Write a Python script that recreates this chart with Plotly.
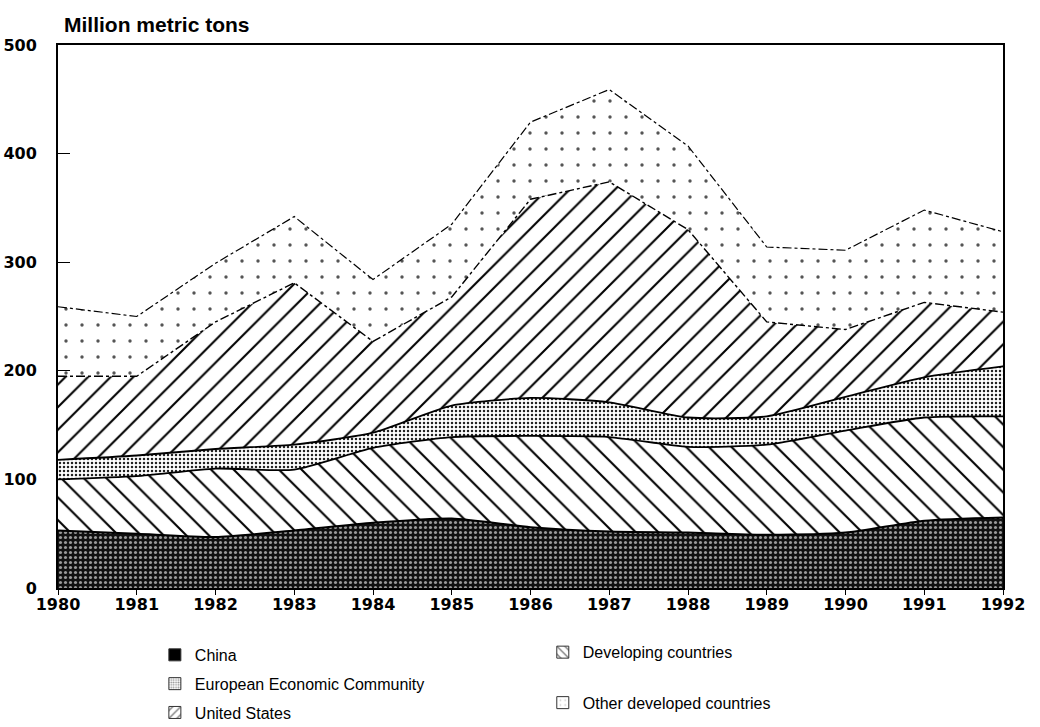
import plotly.graph_objects as go

years = list(range(1980, 1993))
china = [53, 50, 47, 53, 60, 64, 56, 52, 51, 49, 51, 62, 65]
developing = [47, 53, 63, 56, 69, 75, 84, 87, 79, 83, 94, 95, 93]
eec = [18, 19, 18, 23, 14, 29, 35, 32, 27, 26, 31, 37, 46]
united_states = [77, 73, 117, 149, 84, 100, 183, 203, 173, 87, 62, 69, 50]
other_developed = [64, 55, 54, 61, 57, 67, 71, 85, 77, 69, 73, 85, 74]

y_ticks = [0, 100, 200, 300, 400, 500]

FONT = "Liberation Sans"
TICKFONT = "DejaVu Sans"

pat_china = dict(shape=".", fgcolor="#9a9a9a", bgcolor="#111111", size=5, solidity=0.3, fgopacity=1)
pat_dev = dict(shape="\\", fgcolor="black", bgcolor="white", size=16, solidity=0.13, fgopacity=1)
pat_eec = dict(shape=".", fgcolor="#222222", bgcolor="white", size=4, solidity=0.3, fgopacity=1)
pat_us = dict(shape="/", fgcolor="black", bgcolor="white", size=16, solidity=0.13, fgopacity=1)
pat_other = dict(shape=".", fgcolor="#555555", bgcolor="white", size=16, solidity=0.035, fgopacity=1)

fig = go.Figure()

fig.add_trace(go.Scatter(
    x=years, y=china, name="China", stackgroup="s", mode="lines", showlegend=False,
    line=dict(color="black", width=2, shape="spline", smoothing=0.6),
    fillcolor="#111111", fillpattern=pat_china))
fig.add_trace(go.Scatter(
    x=years, y=developing, name="Developing countries", stackgroup="s", mode="lines", showlegend=False,
    line=dict(color="black", width=1.8, shape="spline", smoothing=0.6),
    fillcolor="white", fillpattern=pat_dev))
fig.add_trace(go.Scatter(
    x=years, y=eec, name="European Economic Community", stackgroup="s", mode="lines", showlegend=False,
    line=dict(color="black", width=1.8, shape="spline", smoothing=0.6),
    fillcolor="white", fillpattern=pat_eec))
fig.add_trace(go.Scatter(
    x=years, y=united_states, name="United States", stackgroup="s", mode="lines", showlegend=False,
    line=dict(color="black", width=1.4, dash="dashdot"),
    fillcolor="white", fillpattern=pat_us))
fig.add_trace(go.Scatter(
    x=years, y=other_developed, name="Other developed countries", stackgroup="s", mode="lines", showlegend=False,
    line=dict(color="black", width=1.2, dash="dashdot"),
    fillcolor="white", fillpattern=pat_other))

# legend-only entries (boxes like the reference key)
legend_items = [
    ("China", dict(color="black"), "legend"),
    ("European Economic Community", dict(color="white", pattern=dict(shape=".", fgcolor="#222", bgcolor="white", size=3, solidity=0.4)), "legend"),
    ("United States", dict(color="white", pattern=dict(shape="/", fgcolor="black", bgcolor="white", size=7, solidity=0.25)), "legend"),
    ("Developing countries", dict(color="white", pattern=dict(shape="\\", fgcolor="black", bgcolor="white", size=7, solidity=0.25)), "legend2"),
    ("Other developed countries", dict(color="white", pattern=dict(shape=".", fgcolor="#999", bgcolor="white", size=6, solidity=0.1)), "legend3"),
]
for i, (name, marker, leg) in enumerate(legend_items):
    marker = dict(marker)
    marker["line"] = dict(color="#333", width=1)
    fig.add_trace(go.Bar(x=[None], y=[None], name=name, marker=marker, legend=leg,
                         legendgroup=f"g{i}", hoverinfo="skip"))

legend_common = dict(bgcolor="rgba(0,0,0,0)", font=dict(family=FONT, size=16, color="black"),
                     xanchor="left", yanchor="top", traceorder="grouped", tracegroupgap=5,
                     itemwidth=30)

fig.update_layout(
    width=1040, height=727,
    margin=dict(l=58, r=37, t=45, b=139, autoexpand=False),
    paper_bgcolor="white", plot_bgcolor="white",
    font=dict(family=FONT, color="black"),
    showlegend=True,
    legend=dict(x=0.1025, y=-0.092, **legend_common),
    legend2=dict(x=0.513, y=-0.087, **legend_common),
    legend3=dict(x=0.513, y=-0.18, **legend_common),
    annotations=[dict(text="<b>Million metric tons</b>", xref="paper", yref="paper",
                      x=0.0, y=1.012, xanchor="left", yanchor="bottom", showarrow=False, xshift=4,
                      font=dict(family=FONT, size=21, color="black"))],
)
fig.update_xaxes(range=[1980, 1992], tickvals=years, ticktext=[f"<b>{y}</b>" for y in years],
                 showgrid=False, zeroline=False, showline=True, linecolor="black", linewidth=2,
                 mirror=True, ticks="outside", ticklen=5, tickcolor="black", ticklabelstandoff=-4,
                 tickfont=dict(family=TICKFONT, size=16, color="black"))
fig.update_yaxes(range=[0, 500], tickvals=y_ticks, ticktext=[f"<b>{v}</b>" for v in y_ticks],
                 showgrid=False, zeroline=False, showline=True, linecolor="black", linewidth=2,
                 mirror=True, ticks="inside", ticklen=12, tickcolor="black", ticklabelstandoff=16,
                 tickfont=dict(family=TICKFONT, size=16, color="black"))

fig.write_html("out.html", config={"displayModeBar": False},
               post_script="document.body.style.margin='0';")
